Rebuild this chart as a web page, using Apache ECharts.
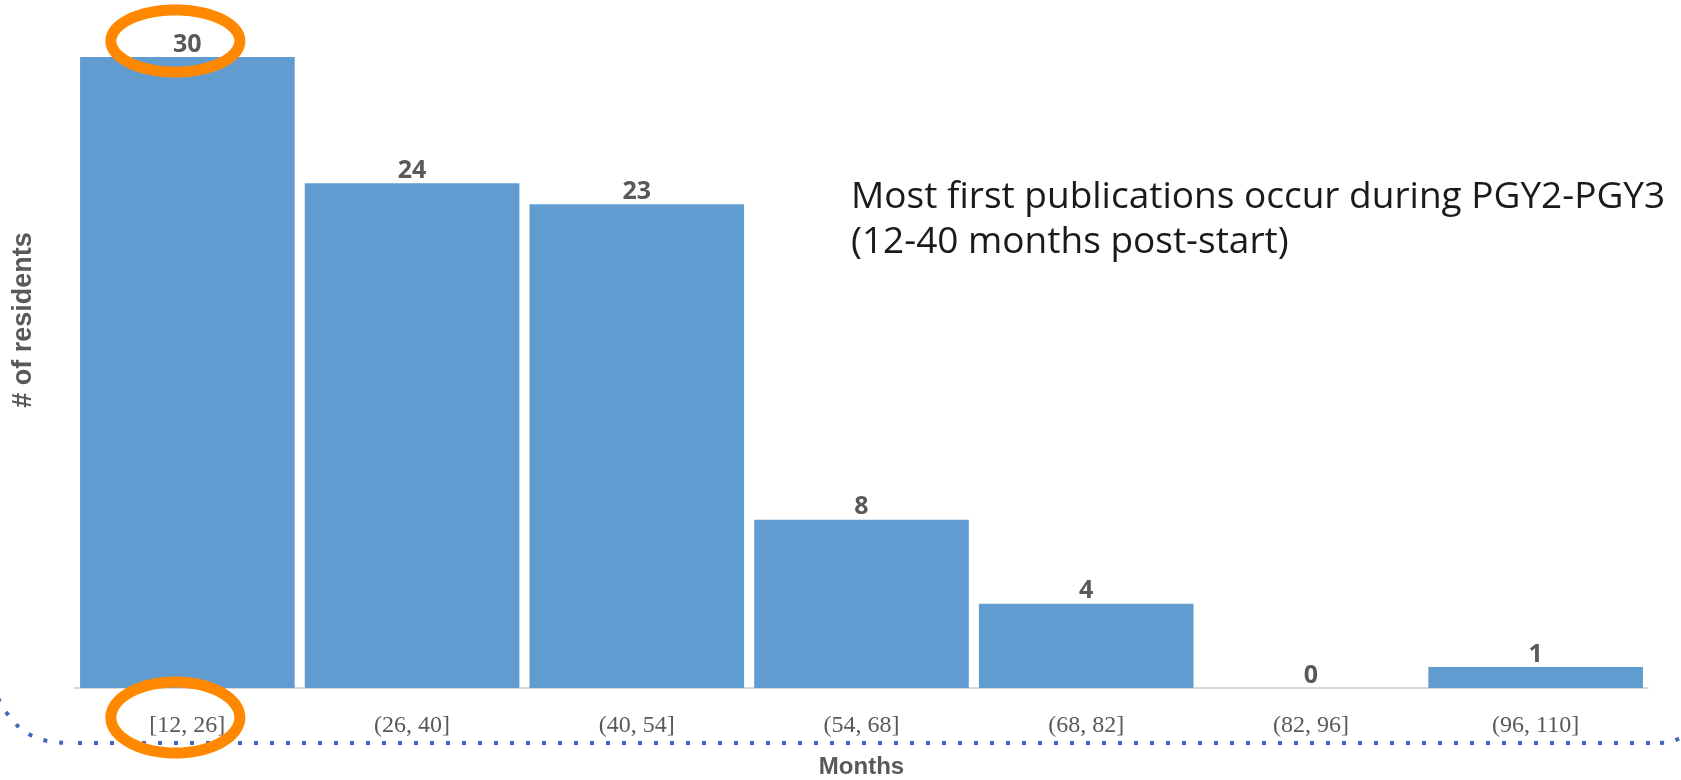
<!DOCTYPE html>
<html>
<head>
<meta charset="utf-8">
<script src="https://cdn.jsdelivr.net/npm/echarts@6/dist/echarts.min.js"></script>
<style>
  html, body { margin: 0; padding: 0; background: #fff; }
  #main { width: 1681px; height: 780px; }
</style>
</head>
<body>
<div id="main"></div>
<script>
// month bins and counts of residents with a first publication
const categories = ['[12, 26]', '(26, 40]', '(40, 54]', '(54, 68]', '(68, 82]', '(82, 96]', '(96, 110]']
const residents = [30, 24, 23, 8, 4, 0, 1]
const yMax = 30

const noteLines = [
  'Most first publications occur during PGY2-PGY3',
  '(12-40 months post-start)'
]

const chart = echarts.init(document.getElementById('main'), null, { renderer: 'canvas' })

const option = {
  animation: false,
  backgroundColor: '#ffffff',
  grid: {
    left: 75,
    right: 33,
    top: 57,
    bottom: 92,
    containLabel: false,
    outerBoundsMode: 'none',
  },
  xAxis: {
    type: 'category',
    data: categories,
    name: 'Months',
    nameLocation: 'middle',
    nameGap: 67,
    nameTextStyle: {
      fontFamily: 'Liberation Sans',
      fontWeight: 'bold',
      fontSize: 24,
      color: '#595959',
    },
    axisLine: { lineStyle: { color: '#d9d9d9', width: 2 } },
    axisTick: { show: false },
    axisLabel: {
      margin: 26,
      fontFamily: 'Liberation Serif',
      fontSize: 24,
      color: '#595959',
    },
  },
  yAxis: {
    type: 'value',
    min: 0,
    max: yMax,
    show: false,
    splitLine: { show: false },
  },
  series: [
    {
      type: 'bar',
      data: residents,
      barCategoryGap: '4.5%',
      itemStyle: { color: '#619cd0' },
      label: {
        show: true,
        position: 'top',
        distance: 0,
        fontFamily: 'Open Sans',
        fontWeight: 'bold',
        fontSize: 25,
        color: '#595959',
      },
    },
  ],
}

chart.setOption(option)

// ellipse outline as a closed polygon
function ellipsePoints(cx, cy, rx, ry) {
  const pts = []
  for (let i = 0; i < 96; i++) {
    const a = (i / 96) * Math.PI * 2
    pts.push([cx + rx * Math.cos(a), cy + ry * Math.sin(a)])
  }
  return pts
}

// annotations placed relative to the first category
const firstX = chart.convertToPixel({ xAxisIndex: 0 }, categories[0]) - 12
const topY = chart.convertToPixel({ yAxisIndex: 0 }, residents[0])
const baseY = chart.convertToPixel({ yAxisIndex: 0 }, 0)

const dotStyle = {
  fill: null,
  stroke: '#4468b8',
  lineWidth: 4,
  lineDash: [4, 12],
}

chart.setOption({
  graphic: [
    {
      type: 'text',
      x: 24,
      y: 320,
      rotation: Math.PI / 2,
      style: {
        text: '# of residents',
        fontFamily: 'Liberation Sans',
        fontWeight: 'bold',
        fontSize: 27,
        fill: '#595959',
        align: 'center',
        verticalAlign: 'middle',
      },
    },
    {
      type: 'text',
      x: 851,
      y: 175,
      style: {
        text: noteLines.join('\n'),
        fontFamily: 'Open Sans',
        fontSize: 37,
        lineHeight: 45,
        fill: '#1a1a1a',
        align: 'left',
        verticalAlign: 'top',
      },
    },
    {
      type: 'bezierCurve',
      shape: { x1: -2, y1: 698, cpx1: 15, cpy1: 732, cpx2: 35, cpy2: 743, x2: 70, y2: 743 },
      style: dotStyle,
    },
    {
      type: 'line',
      shape: { x1: 78, y1: 743, x2: 1652, y2: 743 },
      style: dotStyle,
    },
    {
      type: 'bezierCurve',
      shape: { x1: 1660, y1: 743, cpx1: 1670, cpy1: 743, cpx2: 1676, cpy2: 741, x2: 1690, y2: 732 },
      style: dotStyle,
    },
    {
      type: 'polygon',
      shape: { points: ellipsePoints(firstX, topY - 16, 64.5, 31) },
      style: { fill: null, stroke: '#ff8800', lineWidth: 11 },
      z: 10,
    },
    {
      type: 'polygon',
      shape: { points: ellipsePoints(firstX, baseY + 29.5, 64.5, 35.5) },
      style: { fill: null, stroke: '#ff8800', lineWidth: 11 },
      z: 10,
    },
  ],
})

window.addEventListener('resize', () => chart.resize())
</script>
</body>
</html>
